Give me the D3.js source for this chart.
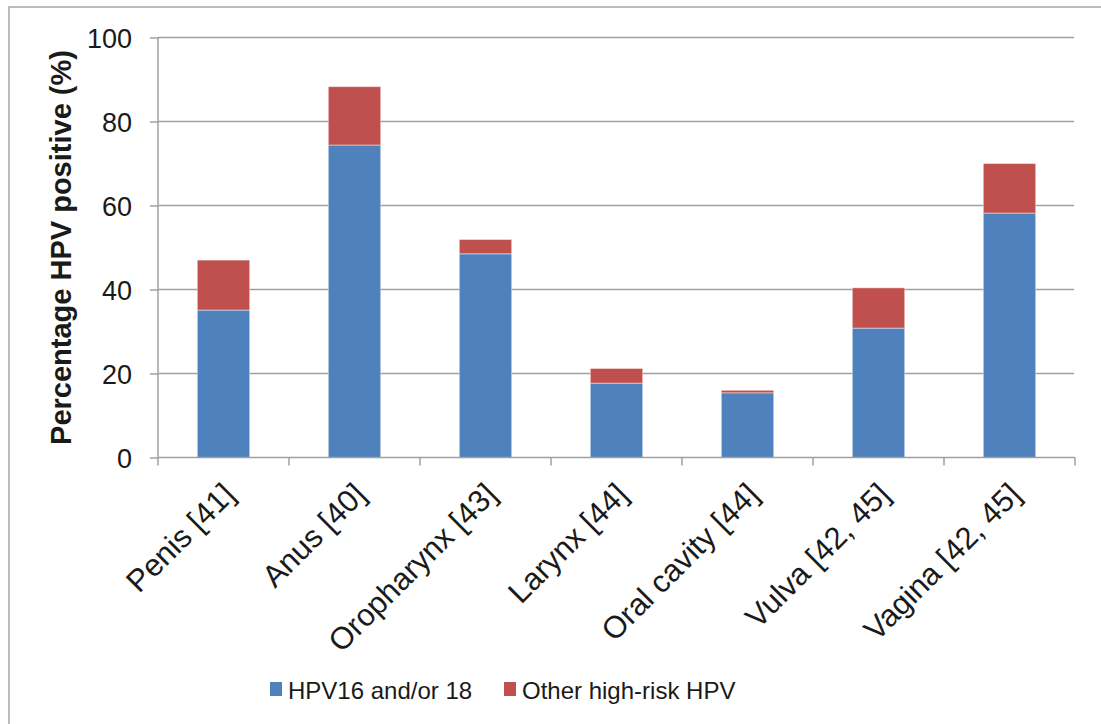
<!DOCTYPE html>
<html>
<head>
<meta charset="utf-8">
<script src="https://cdn.jsdelivr.net/npm/d3@7"></script>
<style>
  body { margin: 0; background: #fff; }
  text { font-family: "Liberation Sans", Arial, sans-serif; fill: #1a1a1a; }
</style>
</head>
<body>
<div id="chart"></div>
<script>
// Data
var categories = ["Penis [41]", "Anus [40]", "Oropharynx [43]", "Larynx [44]",
  "Oral cavity [44]", "Vulva [42, 45]", "Vagina [42, 45]"];
var hpv1618 = [35.1, 74.4, 48.5, 17.7, 15.4, 30.8, 58.2];
var otherHR = [11.9, 13.9, 3.4, 3.5, 0.6, 9.6, 11.8];
var seriesNames = ["HPV16 and/or 18", "Other high-risk HPV"];
var yTicks = [0, 20, 40, 60, 80, 100];

var colors = ["#4f81bd", "#c0504d"];

var width = 1101,
  height = 724;

var m = { left: 158, right: 1075, top: 37.5, bottom: 457.5 };

var svg = d3.select("#chart").append("svg")
  .attr("width", width)
  .attr("height", height);

// Outer chart frame (right/bottom fall off the canvas)
svg.append("rect")
  .attr("x", 9)
  .attr("y", 7)
  .attr("width", 1120)
  .attr("height", 740)
  .attr("fill", "none")
  .attr("stroke", "#a6a6a6")
  .attr("stroke-width", 1.5);

var x = d3.scaleBand()
  .domain(categories)
  .range([m.left, m.right])
  .padding(0);

var y = d3.scaleLinear()
  .domain([0, 100])
  .range([m.bottom, m.top]);

// Gridlines
svg.append("g")
  .selectAll("line")
  .data(yTicks.filter(d => d > 0))
  .enter().append("line")
  .attr("x1", m.left)
  .attr("x2", m.right - 1)
  .attr("y1", d => y(d))
  .attr("y2", d => y(d))
  .attr("stroke", "#a0a0a0")
  .attr("stroke-width", 1.5);

// Stack the series
var rows = categories.map((c, i) => ({ cat: c, a: hpv1618[i], b: otherHR[i] }));
var stack = d3.stack().keys(["a", "b"])(rows);

var bw = x.bandwidth() * 0.4;

svg.append("g")
  .selectAll("g")
  .data(stack)
  .enter().append("g")
  .attr("fill", (d, i) => colors[i])
  .selectAll("rect")
  .data(d => d)
  .enter().append("rect")
  .attr("x", d => x(d.data.cat) + (x.bandwidth() - bw) / 2)
  .attr("width", bw)
  .attr("y", d => y(d[1]))
  .attr("height", d => y(d[0]) - y(d[1]))
  .attr("stroke", "#ffffff")
  .attr("stroke-opacity", 0.45)
  .attr("stroke-width", 1);

// Y axis
var yAxis = svg.append("g")
  .attr("transform", "translate(" + m.left + ",0)")
  .call(d3.axisLeft(y).tickValues(yTicks).tickSize(8).tickPadding(18));
yAxis.select(".domain").attr("stroke", "#a0a0a0").attr("stroke-width", 1.5)
  .attr("d", "M0," + m.top + "V" + m.bottom);
yAxis.selectAll(".tick line").attr("stroke", "#a0a0a0").attr("stroke-width", 1.5);
yAxis.selectAll(".tick text")
  .style("font-size", "27px")
  .attr("fill", "#1a1a1a")
  .attr("dy", "0.36em");

// X axis
var xAxis = svg.append("g")
  .attr("transform", "translate(0," + m.bottom + ")");
xAxis.append("line")
  .attr("x1", m.left).attr("x2", m.right)
  .attr("stroke", "#a0a0a0").attr("stroke-width", 1.5);
var xTickPos = categories.map(c => x(c)).concat([m.right]);
xAxis.selectAll("line.tk")
  .data(xTickPos)
  .enter().append("line")
  .attr("class", "tk")
  .attr("x1", d => d).attr("x2", d => d)
  .attr("y1", 0).attr("y2", 8)
  .attr("stroke", "#a0a0a0").attr("stroke-width", 1.5);

xAxis.selectAll("text")
  .data(categories)
  .enter().append("text")
  .attr("text-anchor", "end")
  .style("font-size", "31px")
  .attr("transform", d => "translate(" + (x(d) + x.bandwidth() / 2 + 13) + ",39) rotate(-45)")
  .text(d => d);

// Y axis title
svg.append("text")
  .attr("transform", "translate(71," + ((m.top + m.bottom) / 2) + ") rotate(-90)")
  .attr("text-anchor", "middle")
  .style("font-size", "29px")
  .style("font-weight", "bold")
  .text("Percentage HPV positive (%)");

// Legend
var legX = [270, 504];
var leg = svg.append("g")
  .selectAll("g")
  .data(seriesNames)
  .enter().append("g")
  .attr("transform", (d, i) => "translate(" + legX[i] + ",682)");
leg.append("rect")
  .attr("width", 12)
  .attr("height", 14)
  .attr("fill", (d, i) => colors[i]);
leg.append("text")
  .attr("x", 18)
  .attr("y", 17)
  .style("font-size", "24px")
  .text(d => d);
</script>
</body>
</html>
